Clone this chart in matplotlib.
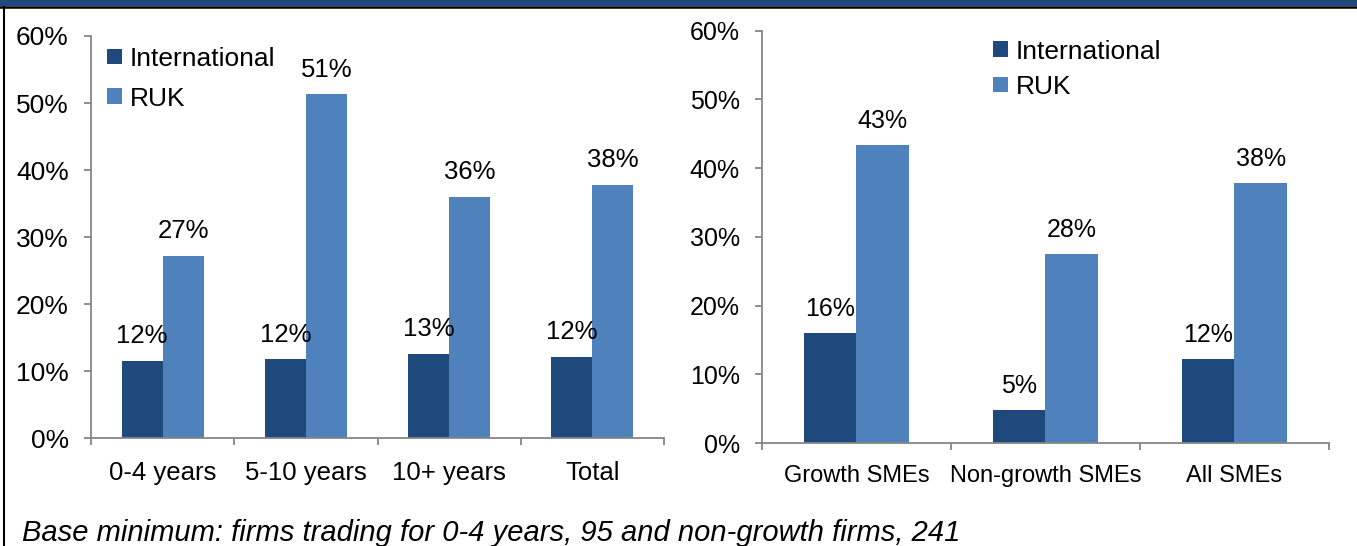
import numpy as np
import matplotlib
matplotlib.use("Agg")
import matplotlib.pyplot as plt
from matplotlib.lines import Line2D
from matplotlib.patches import Rectangle

plt.rcParams['font.family'] = ['Liberation Sans', 'DejaVu Sans']

# Share of firms exporting, by age of business and by growth status (%)
age_groups = ["0-4 years", "5-10 years", "10+ years", "Total"]
age_international = [11.6, 11.8, 12.6, 12.2]
age_ruk = [27.2, 51.3, 36.0, 37.8]

growth_groups = ["Growth SMEs", "Non-growth SMEs", "All SMEs"]
growth_international = [16.0, 4.8, 12.2]
growth_ruk = [43.3, 27.5, 37.8]

series_names = ["International", "RUK"]
footnote = "Base minimum: firms trading for 0-4 years, 95 and non-growth firms, 241"

DARK = "#1F497D"
LIGHT = "#4F81BD"
AXIS_GREY = "#868686"


def draw_panel(ax, cats, intl, ruk, width, tick_fs, cat_fs, label_fs, legend_anchor, legend_gap):
    x = np.arange(len(cats))
    b1 = ax.bar(x - width / 2, intl, width, color=DARK, label=series_names[0])
    b2 = ax.bar(x + width / 2, ruk, width, color=LIGHT, label=series_names[1])
    for bars in (b1, b2):
        ax.bar_label(bars, labels=[f"{v:.0f}%" for v in bars.datavalues],
                     padding=9, fontsize=label_fs)

    ax.set_ylim(0, 60)
    ax.set_xlim(-0.5, len(cats) - 0.5)
    ax.set_yticks(np.arange(0, 61, 10))
    ax.set_yticklabels([f"{t}%" for t in range(0, 61, 10)])
    ax.set_xticks(x)
    ax.set_xticklabels(cats)
    ax.set_xticks(np.arange(len(cats) + 1) - 0.5, minor=True)

    for side in ("top", "right"):
        ax.spines[side].set_visible(False)
    for side in ("left", "bottom"):
        ax.spines[side].set_color(AXIS_GREY)
        ax.spines[side].set_linewidth(1.3)

    ax.tick_params(axis="y", direction="out", length=5, width=1.3, color=AXIS_GREY,
                   labelsize=tick_fs, pad=11)
    ax.tick_params(axis="x", which="major", length=0, labelsize=cat_fs, pad=16)
    ax.tick_params(axis="x", which="minor", direction="out", length=5, width=1.3,
                   color=AXIS_GREY)

    ax.legend(loc="upper left", bbox_to_anchor=legend_anchor, frameon=False,
              fontsize=19, handlelength=0.55, handleheight=0.55, handletextpad=0.3,
              labelspacing=legend_gap, borderpad=0, borderaxespad=0)


fig = plt.figure(figsize=(13.57, 5.46), dpi=100)

ax1 = fig.add_axes([0.0671, 0.1972, 0.4222, 0.7369])
draw_panel(ax1, age_groups, age_international, age_ruk, 0.286,
           tick_fs=19, cat_fs=18.5, label_fs=18.5,
           legend_anchor=(0.028, 0.973), legend_gap=0.6)

ax2 = fig.add_axes([0.5615, 0.1886, 0.4178, 0.7552])
draw_panel(ax2, growth_groups, growth_international, growth_ruk, 0.28,
           tick_fs=18, cat_fs=17, label_fs=18,
           legend_anchor=(0.408, 0.978), legend_gap=0.42)

# header band and frame line
fig.add_artist(Rectangle((0, 1 - 5.5 / 546), 1, 5.5 / 546, transform=fig.transFigure,
                         color=DARK, lw=0))
fig.add_artist(Line2D([0, 1], [1 - 6.5 / 546] * 2, transform=fig.transFigure,
                      color="black", lw=1.8))
fig.add_artist(Line2D([4 / 1357] * 2, [0, 1 - 6.5 / 546], transform=fig.transFigure,
                      color="black", lw=1.5))

fig.text(22 / 1357, 1 - 533 / 546, footnote, style="italic", fontsize=21,
         va="center", ha="left")

fig.savefig("out.png", dpi=100)
